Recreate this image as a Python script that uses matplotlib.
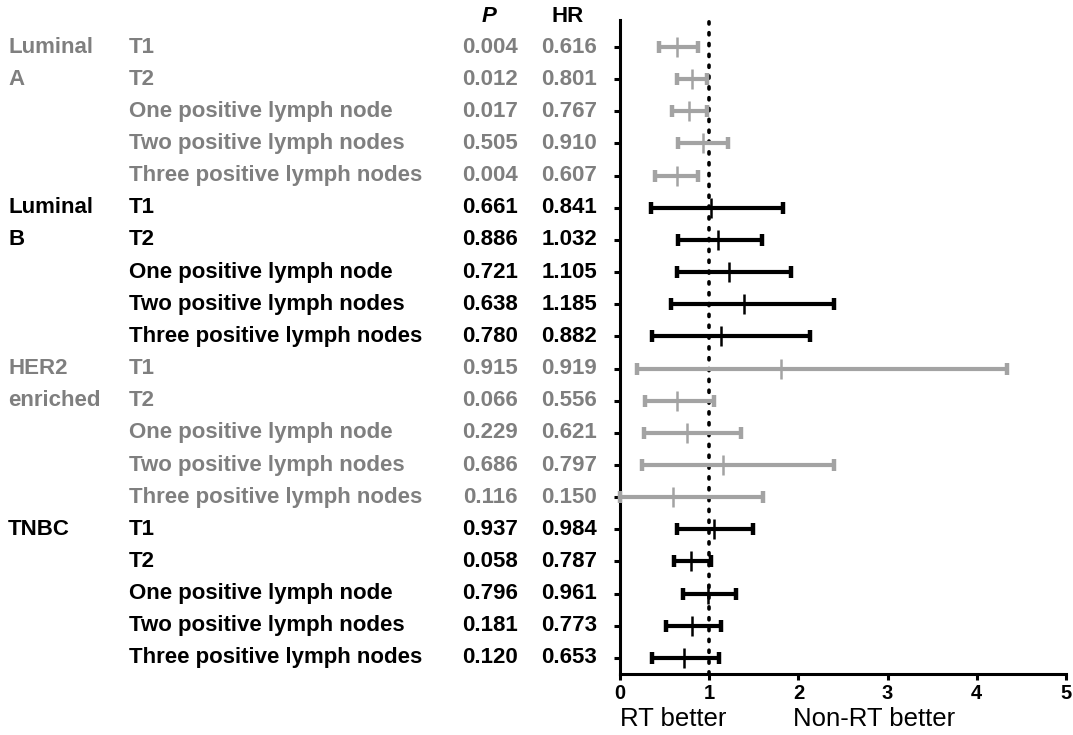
import matplotlib
matplotlib.use("Agg")
import matplotlib.pyplot as plt
import matplotlib.transforms as mtransforms
import numpy as np

plt.rcParams['font.family'] = ['Liberation Sans', 'DejaVu Sans']

# --- data ---
groups = ["Luminal A", "Luminal B", "HER2 enriched", "TNBC"]
subgroups = ["T1", "T2", "One positive lymph node",
             "Two positive lymph nodes", "Three positive lymph nodes"]
p_text = ["0.004", "0.012", "0.017", "0.505", "0.004",
          "0.661", "0.886", "0.721", "0.638", "0.780",
          "0.915", "0.066", "0.229", "0.686", "0.116",
          "0.937", "0.058", "0.796", "0.181", "0.120"]
hr_text = ["0.616", "0.801", "0.767", "0.910", "0.607",
           "0.841", "1.032", "1.105", "1.185", "0.882",
           "0.919", "0.556", "0.621", "0.797", "0.150",
           "0.984", "0.787", "0.961", "0.773", "0.653"]
# plotted estimate and interval
est = [0.64, 0.81, 0.77, 0.93, 0.64,
       1.02, 1.10, 1.22, 1.39, 1.13,
       1.81, 0.64, 0.75, 1.16, 0.59,
       1.05, 0.80, 0.99, 0.81, 0.72]
low = [0.44, 0.64, 0.58, 0.65, 0.39,
       0.35, 0.65, 0.64, 0.57, 0.36,
       0.19, 0.28, 0.27, 0.25, 0.00,
       0.64, 0.60, 0.71, 0.52, 0.36]
high = [0.875, 0.97, 0.97, 1.21, 0.87,
        1.83, 1.59, 1.92, 2.40, 2.13,
        4.34, 1.05, 1.36, 2.40, 1.60,
        1.49, 1.02, 1.30, 1.13, 1.11]

GRAY_TXT = "#7f7f7f"
GRAY_BAR = "#a3a3a3"
group_colors = [GRAY_TXT, "black", GRAY_TXT, "black"]
bar_colors = [GRAY_BAR, "black", GRAY_BAR, "black"]

W, H = 1073, 735
fig = plt.figure(figsize=(W / 100, H / 100), dpi=100)
ax = fig.add_axes([620 / W, 1 - 674 / H, (1066 - 620) / W, (674 - 20) / H])

n = len(est)
ypos = np.arange(1, n + 1)
est = np.array(est)
low = np.array(low)
high = np.array(high)

# reference line
ax.axvline(1, color="black", linestyle=(0, (0.6, 2.4)), linewidth=2.6,
           dash_capstyle="round", zorder=1)

for g in range(len(groups)):
    idx = slice(g * 5, g * 5 + 5)
    y = ypos[idx]
    e = est[idx]
    ax.errorbar(e, y, xerr=[e - low[idx], high[idx] - e], fmt="none",
                ecolor=bar_colors[g], elinewidth=3, capsize=4,
                capthick=3.2, zorder=3, clip_on=False)
    ax.plot(e, y, linestyle="none", marker="|", markersize=15, mew=1.8,
            color=bar_colors[g], zorder=4, clip_on=False)

ax.set_xlim(0, 5)
ax.set_ylim(20.5, 0.16)
ax.set_xticks([0, 1, 2, 3, 4, 5])
ax.set_xticklabels(["0", "1", "2", "3", "4", "5"], fontsize=14.5, fontweight="bold")
ax.set_yticks(ypos)
ax.set_yticklabels([])
for s in ["top", "right"]:
    ax.spines[s].set_visible(False)
for s in ["left", "bottom"]:
    ax.spines[s].set_linewidth(2.2)
ax.tick_params(axis="both", direction="out", length=4.5, width=2.2)
ax.tick_params(axis="x", pad=3)

# text columns
tr = mtransforms.blended_transform_factory(fig.transFigure, ax.transData)
fs = 16
for g, name in enumerate(groups):
    c = group_colors[g]
    words = name.split(" ")
    for k, w in enumerate(words):
        ax.text(8 / W, ypos[g * 5 + k], w, transform=tr, ha="left", va="center",
                fontsize=fs, fontweight="bold", color=c)
    for k, sub in enumerate(subgroups):
        i = g * 5 + k
        ax.text(129 / W, ypos[i], sub, transform=tr, ha="left", va="center",
                fontsize=fs, fontweight="bold", color=c)
        ax.text(518 / W, ypos[i], p_text[i], transform=tr, ha="right", va="center",
                fontsize=fs, fontweight="bold", color=c)
        ax.text(597 / W, ypos[i], hr_text[i], transform=tr, ha="right", va="center",
                fontsize=fs, fontweight="bold", color=c)

fig.text(489 / W, 1 - 17 / H, "P", ha="center", va="center", fontsize=fs,
         fontweight="bold", fontstyle="italic")
fig.text(568 / W, 1 - 17 / H, "HR", ha="center", va="center", fontsize=fs,
         fontweight="bold")

fig.text(620 / W, 1 - 719 / H, "RT better", ha="left", va="center", fontsize=18.5)
fig.text(793 / W, 1 - 719 / H, "Non-RT better", ha="left", va="center", fontsize=18.5)

fig.savefig("out.png", dpi=100)
